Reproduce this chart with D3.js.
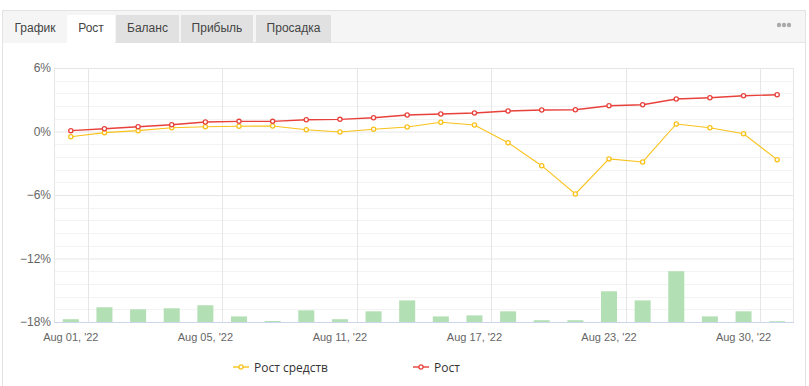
<!DOCTYPE html>
<html>
<head>
<meta charset="utf-8">
<script src="https://cdnjs.cloudflare.com/ajax/libs/d3/7.8.5/d3.min.js"></script>
<style>
  body { margin: 0; background: #fff; }
  svg { display: block; }
</style>
</head>
<body>
<svg id="chart" width="809" height="386"></svg>
<script>
// trading days shown on the x axis
var categories = ["Aug 01, '22","Aug 02, '22","Aug 03, '22","Aug 04, '22","Aug 05, '22",
  "Aug 08, '22","Aug 09, '22","Aug 10, '22","Aug 11, '22","Aug 12, '22",
  "Aug 15, '22","Aug 16, '22","Aug 17, '22","Aug 18, '22","Aug 19, '22",
  "Aug 22, '22","Aug 23, '22","Aug 24, '22","Aug 25, '22","Aug 26, '22",
  "Aug 30, '22","Aug 31, '22"];

// "Рост средств" (equity growth, %)
var equityGrowth = [-0.49,-0.11,0.08,0.36,0.45,0.49,0.52,0.17,-0.05,0.21,
  0.42,0.87,0.61,-1.06,-3.23,-5.90,-2.59,-2.88,0.71,0.36,-0.21,-2.66];

// "Рост" (growth, %)
var growth = [0.08,0.26,0.45,0.64,0.90,0.96,0.96,1.11,1.15,1.30,
  1.56,1.65,1.75,1.93,2.03,2.06,2.43,2.53,3.07,3.19,3.38,3.47];

// daily activity bars (own hidden axis, 0..100)
var activity = [1.1,5.8,5.0,5.4,6.6,2.2,0.4,4.6,1.1,4.2,
  8.5,2.2,2.6,4.2,0.7,0.7,12.1,8.5,20.0,2.2,4.2,0.3];

var yTicks = [6, 0, -6, -12, -18];
var xTickIdx = [0, 4, 8, 12, 16, 20];
var tabs = ["График", "Рост", "Баланс", "Прибыль", "Просадка"];

var svg = d3.select("#chart");
var font = "Liberation Sans, Arial, sans-serif";

// panel frame
svg.append("rect").attr("x", 2.5).attr("y", 10.5).attr("width", 803).attr("height", 380)
  .attr("fill", "#fff").attr("stroke", "#e3e3e3");
svg.append("rect").attr("x", 3).attr("y", 11).attr("width", 802).attr("height", 31)
  .attr("fill", "#f5f5f5");
svg.append("line").attr("x1", 3).attr("x2", 805).attr("y1", 42.5).attr("y2", 42.5)
  .attr("stroke", "#e6e6e6");

// tabs
var tabX = [3, 67, 116, 181, 256];
var tabW = [64, 48, 63, 72, 75];
tabs.forEach(function(t, i) {
  var fill = i == 0 ? "#f5f5f5" : (i == 1 ? "#fff" : "#e1e1e1");
  svg.append("rect").attr("x", tabX[i]).attr("y", 15).attr("width", tabW[i]).attr("height", 28)
    .attr("fill", fill);
  svg.append("text").attr("x", tabX[i] + tabW[i] / 2).attr("y", 32)
    .attr("text-anchor", "middle")
    .attr("font-family", font).attr("font-size", 12)
    .attr("fill", "#444").text(t);
});
[0, 1, 2].forEach(function(i) {
  svg.append("circle").attr("cx", 779 + i * 5).attr("cy", 25).attr("r", 2.2).attr("fill", "#aaa");
});

// scales
var pLeft = 54, pRight = 794, pTop = 68, pBottom = 322;
var x = d3.scaleBand().domain(d3.range(categories.length)).range([pLeft, pRight]);
var y = d3.scaleLinear().domain([-18, 6]).range([pBottom, pTop]);
var yBar = d3.scaleLinear().domain([0, 100]).range([pBottom, pTop]);
var cx = function(i) { return x(i) + x.bandwidth() / 2; };

// minor grid
var minor = d3.range(-18, 6.01, 1.2).filter(function(v) { return Math.abs(v / 6 - Math.round(v / 6)) > 0.01; });
svg.append("g").selectAll("line").data(minor).join("line")
  .attr("x1", pLeft).attr("x2", pRight)
  .attr("y1", function(d) { return Math.round(y(d)) + 0.5; })
  .attr("y2", function(d) { return Math.round(y(d)) + 0.5; })
  .attr("stroke", "#f3f3f3");

// major grid + y labels
var yAxis = d3.axisLeft(y).tickValues(yTicks).tickSize(-(pRight - pLeft))
  .tickFormat(function(d) { return String(d).replace("-", "\u2212") + "%"; });
var gy = svg.append("g").attr("transform", "translate(" + pLeft + ",0)").call(yAxis);
gy.select(".domain").remove();
gy.selectAll(".tick line").attr("stroke", "#e6e6e6");
gy.selectAll(".tick text").attr("x", -3).attr("fill", "#666")
  .attr("font-family", font).attr("font-size", 12);

// vertical grid (between categories)
svg.append("g").selectAll("line").data(xTickIdx).join("line")
  .attr("x1", function(d) { return Math.round(x(d) + x.bandwidth()) + 0.5; })
  .attr("x2", function(d) { return Math.round(x(d) + x.bandwidth()) + 0.5; })
  .attr("y1", pTop).attr("y2", pBottom).attr("stroke", "#e6e6e6");
svg.append("line").attr("x1", pLeft + 0.5).attr("x2", pLeft + 0.5).attr("y1", pTop).attr("y2", pBottom)
  .attr("stroke", "#e6e6e6");
svg.append("line").attr("x1", pRight - 0.5).attr("x2", pRight - 0.5).attr("y1", pTop).attr("y2", pBottom)
  .attr("stroke", "#e6e6e6");

// bars
svg.append("g").selectAll("rect").data(activity).join("rect")
  .attr("x", function(d, i) { return cx(i) - 8; })
  .attr("width", 16)
  .attr("y", function(d) { return yBar(d); })
  .attr("height", function(d) { return pBottom - yBar(d); })
  .attr("fill", "#b3dfb4");

// x axis
var xAxis = d3.axisBottom(x).tickValues(xTickIdx).tickSize(0)
  .tickFormat(function(i) { return categories[i]; });
var gx = svg.append("g").attr("transform", "translate(0," + pBottom + ")").call(xAxis);
gx.select(".domain").attr("stroke", "#ccd6eb").attr("d", "M" + pLeft + ",0.5H" + pRight);
gx.selectAll(".tick text").attr("dy", 0).attr("y", 19).attr("fill", "#666")
  .attr("font-family", font).attr("font-size", 11);

// lines
var series = [
  { name: "Рост средств", data: equityGrowth, color: "#f9c21a", width: 1.1 },
  { name: "Рост", data: growth, color: "#e8413b", width: 1.4 }
];
var line = d3.line().x(function(d, i) { return cx(i); }).y(function(d) { return y(d); });
series.forEach(function(s) {
  svg.append("path").datum(s.data).attr("d", line).attr("fill", "none")
    .attr("stroke", s.color).attr("stroke-width", s.width);
  svg.append("g").selectAll("circle").data(s.data).join("circle")
    .attr("cx", function(d, i) { return cx(i); }).attr("cy", function(d) { return y(d); })
    .attr("r", 2.1).attr("fill", "#fff").attr("stroke", s.color).attr("stroke-width", 1.3);
});

// legend
var legX = [233, 413];
series.forEach(function(s, i) {
  var g = svg.append("g").attr("transform", "translate(" + legX[i] + ",367)");
  g.append("line").attr("x1", 0).attr("x2", 16).attr("stroke", s.color).attr("stroke-width", 2)
    .attr("opacity", 0.7);
  g.append("circle").attr("cx", 8).attr("r", 2.1).attr("fill", "#fff")
    .attr("stroke", s.color).attr("stroke-width", 1.3);
  g.append("text").attr("x", 21).attr("y", 4.5).attr("fill", "#333")
    .attr("font-family", "Open Sans, sans-serif").attr("font-size", 12).text(s.name);
});
</script>
</body>
</html>
